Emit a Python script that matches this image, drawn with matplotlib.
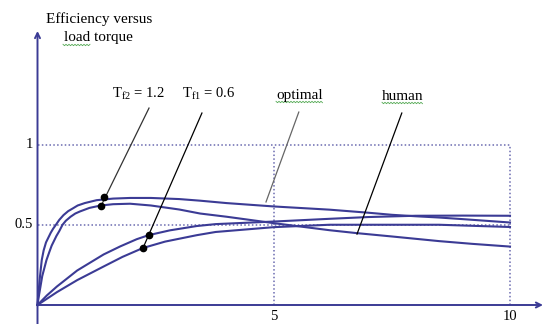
import numpy as np
import matplotlib
matplotlib.use("Agg")
import matplotlib.pyplot as plt

plt.rcParams['font.family'] = ['Liberation Serif', 'DejaVu Serif']
plt.rcParams['mathtext.fontset'] = 'custom'
plt.rcParams['mathtext.rm'] = 'Liberation Serif'
plt.rcParams['mathtext.it'] = 'Liberation Serif:italic'

# efficiency vs load torque
# Tf2 = 1.2, optimal control (top curve)
x_opt12 = [0, 0.01, 0.05, 0.09, 0.13, 0.18, 0.23, 0.28, 0.33, 0.39, 0.46, 0.55, 0.65, 0.76,
           0.85, 1.0, 1.25, 1.6, 1.96, 2.4, 3.0, 3.44, 4.0, 5.0, 6.18, 7.0, 7.5, 8.0, 8.5,
           9.0, 10.0]
y_opt12 = [0, 0.04, 0.17, 0.28, 0.34, 0.39, 0.42, 0.45, 0.475, 0.50, 0.53, 0.56, 0.585, 0.604,
           0.62, 0.635, 0.653, 0.663, 0.667, 0.667, 0.66, 0.65, 0.635, 0.614, 0.594, 0.575,
           0.562, 0.553, 0.545, 0.535, 0.514]
# Tf2 = 1.2, human
x_hum12 = [0, 0.02, 0.1, 0.19, 0.25, 0.3, 0.35, 0.4, 0.46, 0.53, 0.6, 0.7, 0.8, 0.9, 1.1,
           1.34, 1.6, 1.96, 2.4, 3.0, 3.44, 4.0, 4.5, 5.0, 6.18, 6.75, 7.5, 8.5, 9.2, 10.0]
y_hum12 = [0, 0.04, 0.18, 0.28, 0.33, 0.37, 0.40, 0.43, 0.46, 0.50, 0.525, 0.55, 0.57, 0.583,
           0.605, 0.62, 0.628, 0.631, 0.62, 0.595, 0.57, 0.55, 0.53, 0.51, 0.466, 0.448,
           0.427, 0.398, 0.381, 0.364]
# Tf1 = 0.6, optimal
x_opt06 = [0, 0.2, 0.41, 0.84, 1.4, 1.75, 2.1, 2.35, 2.8, 3.37, 3.77, 5.0, 6.18, 7.0, 8.0,
           9.0, 10.0]
y_opt06 = [0, 0.06, 0.115, 0.215, 0.315, 0.365, 0.41, 0.435, 0.465, 0.492, 0.504, 0.52, 0.537,
           0.548, 0.556, 0.557, 0.556]
# Tf1 = 0.6, human
x_hum06 = [0, 0.41, 0.84, 1.4, 1.8, 2.23, 2.7, 3.37, 3.77, 5.0, 6.18, 7.0, 8.5, 10.0]
y_hum06 = [0, 0.08, 0.155, 0.24, 0.30, 0.355, 0.395, 0.435, 0.455, 0.485, 0.50, 0.50, 0.50,
           0.486]

# leader lines (label end -> curve end) and dots where they hit curves
leader_x = [(2.36, 1.344), (3.48, 2.233), (5.53, 4.836), (7.71, 6.762)]
leader_y = [(1.227, 0.617), (1.196, 0.355), (1.202, 0.642), (1.196, 0.442)]
dot_x = [1.407, 1.344, 2.352, 2.233]
dot_y = [0.672, 0.617, 0.435, 0.355]

yticks = [0.5, 1]
xticks = [5, 10]

blue = '#3b3b95'
grid_c = '#6b6bb0'

# pixel -> data helpers (0 at px 37.5 / 305, 47.25 px per x unit, 160.5 px per y unit)
def px(xp):
    return (xp - 37.5) / 47.25

def py(yp):
    return (305 - yp) / 160.5

fig = plt.figure(figsize=(5.47, 3.24), dpi=100)
ax = fig.add_axes([0, 0, 1, 1])
ax.set_xlim(px(0), px(547))
ax.set_ylim(py(324), py(0))
ax.axis('off')

# dotted guides
for v in yticks:
    ax.plot([0, 10], [v, v], ls=(0, (1, 1.5)), color=grid_c, lw=1.1)
for v in xticks:
    ax.plot([v, v], [0, 1], ls=(0, (1, 1.5)), color=grid_c, lw=1.1)

# axes with arrows
ax.annotate('', xy=(0, py(31)), xytext=(0, py(324)),
            arrowprops=dict(arrowstyle='->', color=blue, lw=1.4, shrinkA=0, shrinkB=0,
                            mutation_scale=9))
ax.annotate('', xy=(px(543), 0), xytext=(0, 0),
            arrowprops=dict(arrowstyle='->', color=blue, lw=1.4, shrinkA=0, shrinkB=0,
                            mutation_scale=9))

for xs, ys in [(x_opt12, y_opt12), (x_hum12, y_hum12), (x_opt06, y_opt06), (x_hum06, y_hum06)]:
    ax.plot(xs, ys, color=blue, lw=1.5, solid_joinstyle='round')

# leaders
lcol = ['#333333', 'black', '#666666', 'black']
for lx, ly, c in zip(leader_x, leader_y, lcol):
    ax.plot(lx, ly, color=c, lw=0.9)
ax.plot(dot_x, dot_y, 'o', color='black', ms=4.5)

# tick labels
ax.text(px(33), 1, '1', ha='right', va='center', fontsize=10.5)
ax.text(px(33), 0.5, '0.5', ha='right', va='center', fontsize=10.5)
for v in xticks:
    ax.text(v, py(316), str(v), ha='center', va='center', fontsize=10.5)

# title text
ax.text(px(99), py(19), 'Efficiency versus', ha='center', va='center', fontsize=11)
ax.text(px(98), py(38), 'load torque', ha='center', va='center', fontsize=11)

# curve labels
ax.text(px(112), py(94), r'T$_{\mathrm{f2}}$ = 1.2', ha='left', va='center', fontsize=10.5)
ax.text(px(182), py(94), r'T$_{\mathrm{f1}}$ = 0.6', ha='left', va='center', fontsize=10.5)
ax.text(px(276), py(95), 'optimal', ha='left', va='center', fontsize=11)
ax.text(px(382), py(96), 'human', ha='left', va='center', fontsize=11)

# green spell-check squiggles
def squiggle(x0, x1, yp):
    xs = np.arange(x0, x1 + 0.1, 1.5)
    ys = yp + np.where(np.arange(len(xs)) % 2 == 0, -0.7, 0.7)
    ax.plot(px(xs), py(ys), color='#55aa55', lw=0.6)

squiggle(63, 90, 45)
squiggle(276, 323, 102)
squiggle(382, 423, 103)

fig.savefig('out.png', dpi=100)
